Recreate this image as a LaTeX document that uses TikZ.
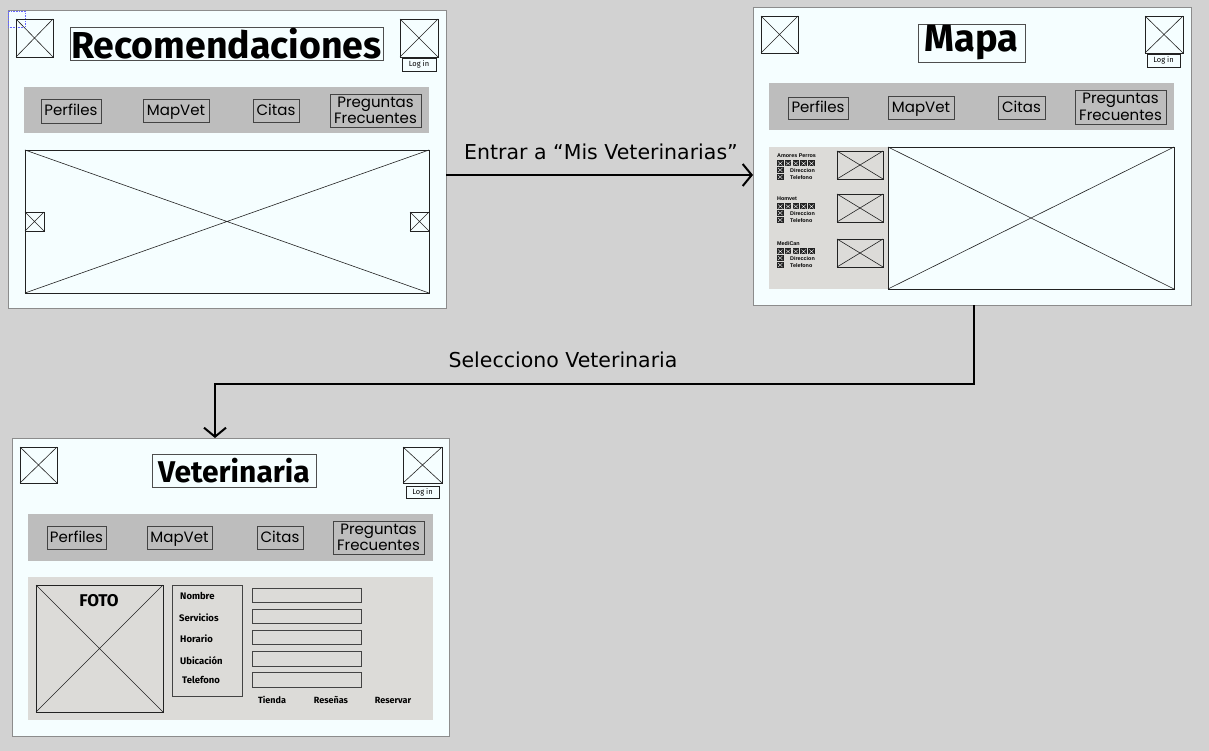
\documentclass[tikz,border=0pt]{standalone}
\usepackage{fontspec}
\setmainfont{Noto Sans}
\newfontfamily\ttlfont{Fira Sans}
\newfontfamily\navfont{Poppins}
\newfontfamily\tinyfont{Liberation Sans}
\newfontfamily\labfont{DejaVu Sans}
\usetikzlibrary{arrows.meta}
\definecolor{bg}{HTML}{D2D2D2}
\definecolor{framefill}{HTML}{F5FEFF}
\definecolor{framebd}{HTML}{8C8C8C}
\definecolor{navbg}{HTML}{BDBDBD}
\definecolor{panel}{HTML}{DCDBD8}
\definecolor{ink}{HTML}{222222}
\tikzset{
  frame/.style={draw=framebd, fill=framefill, line width=1pt},
  phbox/.style={draw=ink, line width=0.8pt},
  phline/.style={draw=ink, line width=0.6pt},
  titlebox/.style={draw=ink!80, line width=0.9pt},
  navbar/.style={fill=navbg},
  navitem/.style={draw=ink!85, line width=0.9pt, align=center,
    font=\navfont\fontsize{15}{16.5}\selectfont},
  navone/.style={navitem, text height=11pt, text depth=1pt},
  loginbox/.style={draw=ink, line width=0.6pt, fill=framefill,
    font=\ttlfont\fontsize{7.5}{8}\selectfont},
  panelbox/.style={fill=panel},
  field/.style={draw=ink!85, line width=0.9pt},
  lbl/.style={font=\ttlfont\bfseries\fontsize{9.5}{10}\selectfont, anchor=base west, inner sep=0pt},
  btn/.style={font=\ttlfont\bfseries\fontsize{9}{10}\selectfont, anchor=base, inner sep=0pt},
  itemtxt/.style={font=\tinyfont\bfseries\fontsize{5.4}{6}\selectfont, anchor=base west, inner sep=0pt},
  selbox/.style={draw=blue!60, densely dotted, line width=0.6pt},
  conn/.style={draw=black, line width=2pt, -{Straight Barb[length=9pt,width=22pt]}},
  conlabel/.style={font=\labfont\fontsize{20.5}{24}\selectfont, anchor=base, inner sep=0pt},
}
% generic box: name x1 y1 x2 y2 style text
\newcommand\bx[7]{\node[#6, inner sep=0pt, outer sep=0pt, anchor=north west,
  minimum width={((#4)-(#2))*1pt}, minimum height={((#5)-(#3))*1pt}] (#1) at (#2,#3) {#7};}
% image placeholder
\newcommand\ph[5]{\node[phbox, inner sep=0pt, outer sep=0pt, anchor=north west,
  minimum width={((#4)-(#2))*1pt}, minimum height={((#5)-(#3))*1pt}] (#1) at (#2,#3) {};
  \draw[phline] (#1.north west) -- (#1.south east) (#1.north east) -- (#1.south west);}
% tiny dark image icon
\newcommand\tinyx[2]{\fill[ink] (#1,#2) rectangle ++(6.5,6);
  \draw[white, line width=0.35pt] (#1+1,#2+1) -- ++(4.5,4) (#1+5.5,#2+1) -- ++(-4.5,4);}
\newcommand\vetitem[3]{%
  \node[itemtxt] at (777,158+#1) {#2};
  \foreach \i in {0,...,4} {\tinyx{777+\i*7.8}{160.5+#1}}
  \tinyx{777}{167+#1}
  \tinyx{777}{174+#1}
  \node[itemtxt] at (790,172.5+#1) {Direccion};
  \node[itemtxt] at (790,180+#1) {Telefono};
  \ph{#3}{837}{151+#1}{883}{179+#1}
}
\begin{document}
\begin{tikzpicture}[x=1pt, y=-1pt]
\fill[bg] (0,0) rectangle (1209,751);
\useasboundingbox (0,0) rectangle (1209,751);

% ---------- Frame 1: Recomendaciones ----------
\bx{f1}{8}{11}{446}{308}{frame}{}
\draw[selbox] (8,11) rectangle (25,27);
\ph{f1l}{16}{19}{53}{57}
\bx{f1t}{70}{27}{383}{60}{titlebox, font=\ttlfont\bfseries\fontsize{37.5}{40}\selectfont}{Recomendaciones}
\ph{f1r}{400}{19}{438}{57}
\bx{f1log}{402}{58}{436}{71}{loginbox}{Log in}
\bx{f1nav}{24}{87}{429}{133}{navbar}{}
\bx{f1n1}{41}{99}{101}{123}{navone}{Perfiles}
\bx{f1n2}{143}{99}{209}{122}{navone}{MapVet}
\bx{f1n3}{253}{99}{299}{122}{navone}{Citas}
\bx{f1n4}{330}{94}{421}{127}{navitem}{Preguntas\\Frecuentes}
\ph{f1img}{25}{150}{429}{293}
\ph{f1sl}{25}{212}{44}{231}
\ph{f1sr}{410}{212}{429}{231}

% ---------- Frame 2: Mapa ----------
\bx{f2}{753}{8}{1191}{305}{frame}{}
\ph{f2l}{761}{16}{798}{53}
\bx{f2t}{918}{24}{1025}{62}{titlebox, font=\ttlfont\bfseries\fontsize{38}{40}\selectfont}{Mapa}
\ph{f2r}{1145}{16}{1183}{53}
\bx{f2log}{1147}{54}{1180}{67}{loginbox}{Log in}
\bx{f2nav}{769}{83}{1174}{130}{navbar}{}
\bx{f2n1}{788}{97}{848}{119}{navone}{Perfiles}
\bx{f2n2}{888}{96}{954}{119}{navone}{MapVet}
\bx{f2n3}{998}{96}{1045}{119}{navone}{Citas}
\bx{f2n4}{1075}{90}{1166}{124}{navitem}{Preguntas\\Frecuentes}
\bx{f2list}{769}{147}{888}{289}{panelbox}{}
\ph{f2map}{888}{147}{1174}{289}
\vetitem{0}{Amores Perros}{f2i1}
\vetitem{43}{Homvet}{f2i2}
\vetitem{88}{MediCan}{f2i3}

% ---------- Frame 3: Veterinaria ----------
\bx{f3}{12}{438}{449}{736}{frame}{}
\ph{f3l}{20}{447}{57}{483}
\bx{f3t}{152}{454}{316}{487}{titlebox, font=\ttlfont\bfseries\fontsize{30}{32}\selectfont}{Veterinaria}
\ph{f3r}{403}{447}{442}{483}
\bx{f3log}{406}{486}{439}{498}{loginbox}{Log in}
\bx{f3nav}{28}{514}{433}{561}{navbar}{}
\bx{f3n1}{47}{526}{106}{549}{navone}{Perfiles}
\bx{f3n2}{147}{526}{212}{549}{navone}{MapVet}
\bx{f3n3}{257}{526}{303}{549}{navone}{Citas}
\bx{f3n4}{333}{521}{424}{554}{navitem}{Preguntas\\Frecuentes}
\bx{f3panel}{28}{577}{433}{720}{panelbox}{}
\ph{f3foto}{36}{585}{163}{712}
\node[font=\ttlfont\bfseries\fontsize{17}{18}\selectfont, inner sep=0pt] (foto) at (99,601) {FOTO};
\bx{f3lbl}{172}{585}{242}{696}{field}{}
\node[lbl] (lnom) at (180,599) {Nombre};
\node[lbl] (lser) at (179,621) {Servicios};
\node[lbl] (lhor) at (180,642) {Horario};
\node[lbl] (lubi) at (180,664) {Ubicación};
\node[lbl] (ltel) at (182,683) {Telefono};
\bx{fnom}{252}{588}{361}{602}{field}{}
\bx{fser}{252}{609}{361}{623}{field}{}
\bx{fhor}{252}{630}{361}{644}{field}{}
\bx{fubi}{252}{651}{361}{666}{field}{}
\bx{ftel}{252}{672}{361}{687}{field}{}
\node[btn] (btien) at (272,703) {Tienda};
\node[btn] (bres) at (331,703) {Reseñas};
\node[btn] (bresv) at (393,703) {Reservar};

% ---------- Connectors ----------
\coordinate (a1) at (600,175);
\draw[conn] (f1.east |- a1) -- (f2.west |- a1);
\node[conlabel] (lab1) at (601,160) {Entrar a “Mis Veterinarias”};
\coordinate (bend) at (974,384);
\coordinate (drop) at (215,384);
\draw[conn] (f2.south -| bend) -- (bend) -- (drop) -- (f3.north -| drop);
\node[conlabel] (lab2) at (563,367) {Selecciono Veterinaria};
\end{tikzpicture}
\end{document}
